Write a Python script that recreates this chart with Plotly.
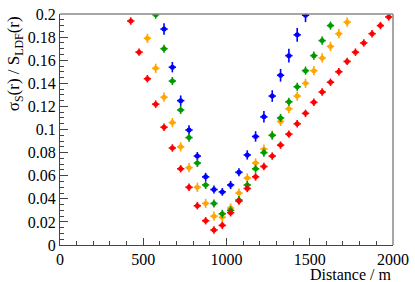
import plotly.graph_objects as go

# Distances (m) per series
red_x = [425, 475, 525, 575, 625, 675, 725, 775, 825, 875, 925, 975, 1025, 1075, 1125, 1175,
         1225, 1275, 1325, 1375, 1425, 1475, 1525, 1575, 1625, 1675, 1725, 1775, 1825, 1875, 1925, 1975]
red_y = [0.194, 0.167, 0.144, 0.122, 0.102, 0.084, 0.066, 0.050, 0.034, 0.021, 0.013, 0.017, 0.028, 0.038,
         0.049, 0.059, 0.068, 0.077, 0.0865, 0.096, 0.105, 0.114, 0.1236, 0.1325, 0.141, 0.150, 0.159,
         0.167, 0.175, 0.183, 0.190, 0.1975]
red_err = [0.0032] * 32

orange_x = [525, 575, 625, 675, 725, 775, 825, 875, 925, 975, 1025, 1075, 1125, 1175, 1225, 1275,
            1325, 1375, 1425, 1475, 1525, 1575, 1625, 1675, 1725]
orange_y = [0.179, 0.153, 0.128, 0.106, 0.085, 0.067, 0.050, 0.036, 0.025, 0.024, 0.032, 0.045, 0.058,
            0.071, 0.083, 0.095, 0.107, 0.118, 0.129, 0.140, 0.151, 0.162, 0.172, 0.183, 0.193]
orange_err = [0.004] * 25

green_x = [575, 625, 675, 725, 775, 825, 875, 925, 975, 1025, 1075, 1125, 1175, 1225, 1275, 1325,
           1375, 1425, 1475, 1525, 1575, 1625]
green_y = [0.1995, 0.170, 0.142, 0.117, 0.093, 0.071, 0.052, 0.036, 0.027, 0.030, 0.039, 0.052, 0.066,
           0.080, 0.095, 0.110, 0.124, 0.137, 0.151, 0.164, 0.177, 0.190]
green_err = [0.0035] * 22

blue_x = [625, 675, 725, 775, 825, 875, 925, 975, 1025, 1075, 1125, 1175, 1225, 1275, 1325, 1375,
          1425, 1475]
blue_y = [0.187, 0.154, 0.125, 0.0996, 0.077, 0.059, 0.048, 0.046, 0.052, 0.063, 0.078, 0.094, 0.111,
          0.129, 0.147, 0.164, 0.182, 0.199]
blue_err = [0.005, 0.0045, 0.0045, 0.004, 0.0035, 0.0035, 0.0035, 0.0033, 0.0035, 0.0035, 0.004, 0.0045,
            0.005, 0.005, 0.0055, 0.006, 0.006, 0.006]

x_ticks = [0, 500, 1000, 1500, 2000]
y_ticks = [0, 0.02, 0.04, 0.06, 0.08, 0.1, 0.12, 0.14, 0.16, 0.18, 0.2]
y_tick_labels = ["0", "0.02", "0.04", "0.06", "0.08", "0.1", "0.12", "0.14", "0.16", "0.18", "0.2"]

x_half_width = 22

series = [
    ("blue", blue_x, blue_y, blue_err, "#0000ff"),
    ("orange", orange_x, orange_y, orange_err, "#ffa500"),
    ("green", green_x, green_y, green_err, "#009a00"),
    ("red", red_x, red_y, red_err, "#ff0000"),
]

fig = go.Figure()
for name, xs, ys, es, col in series:
    fig.add_trace(go.Scatter(
        x=xs, y=ys, mode="markers", name=name,
        marker=dict(color=col, size=5, symbol="circle"),
        error_x=dict(type="constant", value=x_half_width, color=col, thickness=1.6, width=0),
        error_y=dict(type="data", array=es, color=col, thickness=1.6, width=0),
        showlegend=False, cliponaxis=True,
    ))

font = "Liberation Serif"
fig.update_layout(
    width=415, height=282,
    margin=dict(l=60, r=17, t=6, b=37),
    paper_bgcolor="white", plot_bgcolor="white",
    font=dict(family=font, size=16, color="black"),
    xaxis=dict(range=[0, 2000.5], tickvals=x_ticks, ticks="inside", ticklen=7,
               tickcolor="#444", linecolor="#444", linewidth=1.2, showgrid=False, zeroline=False,
               minor=dict(ticks="inside", dtick=100, ticklen=4, tickcolor="#444"),
               tickfont=dict(family=font, size=16), ticklabeloverflow="allow", ticklabelstandoff=0),
    yaxis=dict(range=[0, 0.20005], tickvals=y_ticks, ticktext=y_tick_labels,
               ticks="inside", ticklen=8, tickcolor="#444", linecolor="#444", linewidth=1.2,
               showgrid=False, zeroline=False,
               minor=dict(ticks="inside", dtick=0.005, ticklen=4, tickcolor="#444"),
               tickfont=dict(family=font, size=16), ticklabeloverflow="allow"),
    shapes=[
        dict(type="line", xref="paper", yref="paper", x0=0, x1=1, y0=1, y1=1, line=dict(color="#888", width=1.5)),
        dict(type="line", xref="paper", yref="paper", x0=1, x1=1, y0=0, y1=1, line=dict(color="#888", width=1.5)),
    ],
    annotations=[
        dict(text="Distance / m", xref="paper", yref="paper", x=1, y=-0.128, xanchor="right",
             yanchor="middle", showarrow=False, font=dict(family=font, size=16)),
        dict(text="σ<sub>S</sub>(r) / S<sub>LDF</sub>(r)", xref="paper", yref="paper", x=-0.175, y=1.0,
             xanchor="left", yanchor="top", textangle=-90, showarrow=False, font=dict(family=font, size=17)),
    ],
)

fig.write_html("out.html", config={"displayModeBar": False},
               post_script="document.body.style.margin='0';document.body.style.padding='0';")
